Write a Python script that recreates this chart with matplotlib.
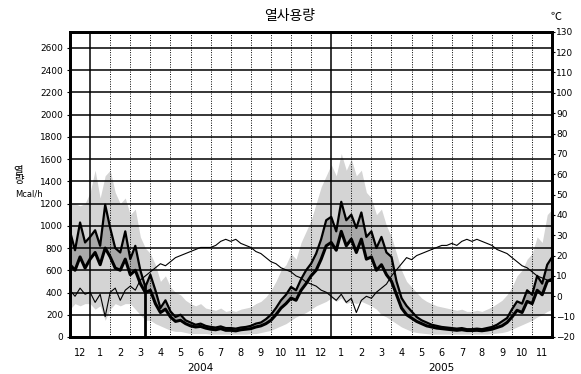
import matplotlib.pyplot as plt
from matplotlib.transforms import blended_transform_factory
import numpy as np

plt.rcParams['font.family'] = ['DejaVu Sans', 'Noto Sans CJK KR']

# months Dec 2003 .. Nov 2005, values sampled every quarter month
MONTH_LABELS = ["12", "1", "2", "3", "4", "5", "6", "7", "8", "9", "10", "11",
                "12", "1", "2", "3", "4", "5", "6", "7", "8", "9", "10", "11"]
YEARS = ["2004", "2005"]

# upper heat line (Mcal/h)
heat_high = [950, 780, 1030, 850,   900, 960, 820, 1190,   980, 800, 760, 950,
             700, 820, 600, 450,    560, 420, 260, 330,    230, 180, 200, 150,
             130, 110, 120, 100,    90, 85, 95, 80,        80, 75, 85, 90,
             100, 120, 130, 160,    200, 260, 330, 380,    450, 420, 520, 600,
             660, 750, 880, 1050,   1080, 950, 1216, 1050, 1100, 980, 1120, 900,
             950, 800, 900, 760,    720, 500, 350, 280,    230, 180, 150, 130,
             110, 100, 90, 85,      80, 75, 80, 70,        70, 75, 70, 80,
             90, 110, 140, 170,     250, 320, 300, 420,    380, 550, 480, 650,
             720]
# middle heat line (Mcal/h)
heat_mean = [650, 600, 720, 620,    700, 760, 650, 800,    720, 620, 600, 700,
             560, 600, 480, 400,    420, 300, 220, 250,    180, 140, 150, 120,
             100, 90, 95, 80,       70, 65, 75, 60,        60, 55, 65, 70,
             75, 90, 100, 120,      150, 200, 260, 300,    350, 330, 420, 480,
             550, 600, 700, 820,    850, 780, 950, 820,    880, 760, 880, 700,
             720, 600, 650, 560,    500, 380, 260, 200,    170, 140, 120, 100,
             90, 80, 75, 70,        65, 60, 65, 58,        58, 60, 56, 62,
             70, 85, 100, 130,      180, 240, 220, 320,    300, 420, 380, 500,
             520]
# outside temperature (deg C)
temp = [3, 0, 4, 1,        2, -3, 1, -10,     2, 4, -2, 3,       5, 3, 8, 10,
        12, 14, 16, 15,    17, 19, 20, 21,    22, 23, 24, 24,    24, 25, 27, 28,
        27, 28, 26, 25,    24, 22, 21, 19,    17, 16, 14, 13,    12, 10, 9, 7,
        6, 5, 3, 2,        0, -2, 1, -3,      -1, -8, -2, 0,     -1, 2, 4, 6,
        10, 13, 16, 19,    18, 20, 21, 22,    23, 24, 25, 25,    26, 25, 27, 28,
        27, 28, 27, 26,    25, 23, 22, 21,    19, 17, 15, 14,    12, 10, 9, 8,
        7]
# range of hourly heat use (shaded)
range_hi = [1200, 1200, 1180, 1200, 1300, 1500, 1250, 1450, 1500, 1300, 1200, 1250,
            1100, 1150, 900, 800,   750, 650, 500, 550,     450, 400, 380, 330,
            300, 280, 300, 260,     250, 240, 260, 230,     240, 230, 250, 260,
            270, 300, 320, 360,     420, 500, 600, 650,     750, 700, 850, 950,
            1050, 1200, 1350, 1450, 1550, 1450, 1650, 1500, 1600, 1450, 1500, 1300,
            1250, 1100, 1150, 1000, 900, 750, 600, 500,     450, 400, 350, 320,
            300, 280, 270, 260,     250, 240, 250, 230,     230, 240, 230, 250,
            270, 300, 330, 380,     450, 550, 600, 700,     750, 900, 850, 1100,
            1150]
range_lo = [250, 300, 280, 300,   300, 250, 280, 150,   250, 300, 280, 300,
            300, 250, 200, 150,   150, 120, 100, 80,    60, 50, 50, 40,
            30, 30, 30, 30,       25, 25, 25, 25,       25, 25, 25, 25,
            30, 30, 40, 50,       60, 80, 100, 120,     150, 180, 200, 220,
            250, 280, 300, 320,   350, 320, 350, 300,   320, 300, 320, 300,
            280, 250, 200, 180,   150, 120, 90, 70,     50, 40, 35, 30,
            25, 25, 25, 25,       25, 25, 25, 25,       25, 25, 25, 25,
            30, 35, 40, 50,       70, 90, 110, 130,     150, 180, 200, 230,
            250]
# short outage in March 2004 (month position, level before the drop)
outage_month = [3.72]
outage_level = [480]

x = np.arange(len(heat_high)) * 0.25

fig = plt.figure(figsize=(5.81, 3.74), dpi=100)
ax = fig.add_axes([0.1205, 0.099, 0.830, 0.816])
ax2 = ax.twinx()

ax.fill_between(x, range_lo, range_hi, color="#d4d4d4", lw=0, zorder=1)
ax.fill_between(x, heat_mean, heat_high, color="#a8a8a8", lw=0, zorder=1.5)

# grid: solid horizontal, dotted month lines, solid year lines
for v in range(0, 2800, 200):
    ax.axhline(v, color="black", lw=1.1, zorder=2)
for m in range(1, len(MONTH_LABELS)):
    if MONTH_LABELS[m] == "1":
        ax.axvline(m, color="black", lw=1.1, zorder=2)
    else:
        ax.axvline(m, color="black", lw=0.7, ls=(0, (1, 1.5)), zorder=2)

ax.plot(x, heat_high, color="black", lw=1.6, zorder=3)
ax.plot(x, heat_mean, color="black", lw=2.2, zorder=3)
ax.vlines(outage_month, 0, outage_level, color="black", lw=2, zorder=3)
ax2.plot(x, temp, color="black", lw=0.8, zorder=3)

ax.set_xlim(0, len(MONTH_LABELS))
ax.set_ylim(0, 2745)
ax2.set_ylim(-20, 130)
ax.set_yticks(range(0, 2700, 200))
ax2.set_yticks(range(-20, 131, 10))
ax.set_xticks(np.arange(len(MONTH_LABELS)) + 0.5)
ax.set_xticklabels(MONTH_LABELS)
ax.tick_params(axis="x", length=0, pad=8, labelsize=7)
ax.tick_params(axis="y", length=2, width=0.8, pad=3, labelsize=6.5)
ax2.tick_params(axis="y", length=2, width=0.8, pad=1, labelsize=6.5)

for a in (ax, ax2):
    for s in a.spines.values():
        s.set_linewidth(2)

tr = blended_transform_factory(ax.transData, fig.transFigure)
for i, yr in enumerate(YEARS):
    ax.text(6.5 + 12 * i, 0.002, yr, transform=tr, ha="center", va="bottom",
            fontsize=7.5)

fig.text(0.499, 0.958, "열사용량", ha="center", va="center", fontsize=10,
         family=["Noto Sans CJK KR", "DejaVu Sans"])
fig.text(0.032, 0.530, "열\n량", ha="center", va="center", fontsize=7.5,
         linespacing=0.85, family=["Noto Sans CJK KR", "DejaVu Sans"])
fig.text(0.050, 0.482, "Mcal/h", ha="center", va="center", fontsize=6)
fig.text(0.957, 0.955, "℃", ha="center", va="center", fontsize=8,
         family=["Noto Sans CJK KR", "DejaVu Sans"])

fig.savefig("out.png", dpi=100)
